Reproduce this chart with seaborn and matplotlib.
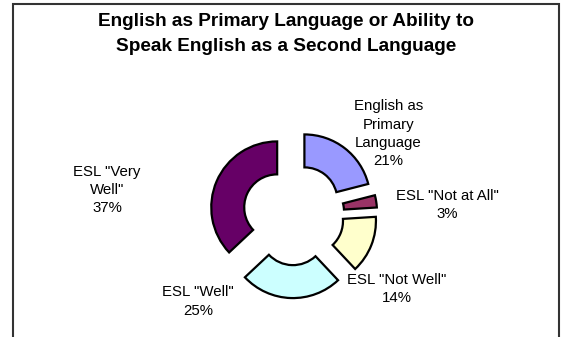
import matplotlib
matplotlib.use("Agg")
import matplotlib.pyplot as plt
import seaborn as sns
from matplotlib.patches import Rectangle

sns.set_theme(style="white")
plt.rcParams['font.family'] = ['Liberation Sans', 'DejaVu Sans']

# ---- data ----
categories = ['English as\nPrimary\nLanguage', 'ESL "Not at All"', 'ESL "Not Well"',
              'ESL "Well"', 'ESL "Very\nWell"']
shares = [21, 3, 14, 25, 37]
colors = ['#9999FF', '#993366', '#FFFFCC', '#CCFFFF', '#660066']
title = "English as Primary Language or Ability to\nSpeak English as a Second Language"

W, H = 579, 337
DPI = 100
fig = plt.figure(figsize=(W / DPI, H / DPI), dpi=DPI)
fig.patch.set_facecolor('white')

# pie geometry (pixels)
CX, CY, R = 293.5, 214.4, 65.9

ax = fig.add_axes([0, 0, 1, 1])
ax.pie(shares, colors=colors, startangle=90, counterclock=False,
       explode=[0.27] * len(shares),
       wedgeprops=dict(width=0.5, edgecolor='black', linewidth=1.6),
       radius=1, center=(0, 0))
ax.set_xlim(-CX / R, (W - CX) / R)
ax.set_ylim(-(H - CY) / R, CY / R)
ax.set_aspect('auto')
ax.axis('off')


def px(x, y):
    return (x - CX) / R, (CY - y) / R


# label positions in pixels (center of text block)
label_pos = [(388.3, 133.8), (447.0, 205.0), (396.7, 288.8), (198.0, 301.7), (107.0, 190.0)]
for cat, val, (lx, ly) in zip(categories, shares, label_pos):
    x, y = px(lx, ly)
    ax.text(x, y, f"{cat}\n{val}%", ha='center', va='center', fontsize=10.8,
            linespacing=1.4, color='black')

# frame
fig.patches.append(Rectangle((13 / W, -0.05), (559 - 13) / W, 1.05 - 3.5 / H,
                             transform=fig.transFigure, fill=False,
                             edgecolor='#333333', linewidth=1.5))

fig.text(286 / W, 1 - 34 / H, title, ha='center', va='center', fontsize=13.7,
         fontweight='bold', linespacing=1.65, color='black')

fig.savefig('out.png', dpi=DPI, facecolor='white')
